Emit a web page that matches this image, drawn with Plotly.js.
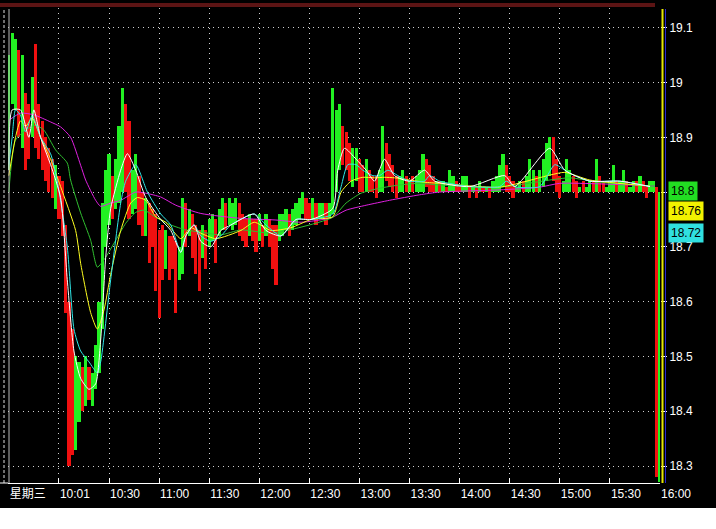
<!DOCTYPE html>
<html><head><meta charset="utf-8">
<script src="https://cdn.plot.ly/plotly-3.0.1.min.js"></script>
<style>html,body{margin:0;padding:0;background:#fff}#chart{width:716px;height:508px}</style>
</head><body><div id="chart"></div>
<script>
// ---- data ----
const sessionStart = '09:30';
const barStepMin = 2; // one bar every two minutes
const barLow = [
18.84,18.96,18.95,18.90,18.88,18.84,18.86,18.90,18.88,18.86,
18.84,18.82,18.80,18.79,18.77,18.75,18.72,18.58,18.30,18.32,
18.33,18.38,18.40,18.41,18.42,18.41,18.44,18.47,18.55,18.70,
18.74,18.75,18.77,18.78,18.80,18.80,18.75,18.76,18.77,18.74,
18.72,18.72,18.67,18.70,18.62,18.57,18.64,18.66,18.64,18.66,
18.58,18.64,18.65,18.70,18.72,18.68,18.65,18.62,18.68,18.66,
18.70,18.71,18.67,18.72,18.73,18.73,18.74,18.73,18.74,18.72,
18.71,18.70,18.72,18.71,18.69,18.71,18.70,18.72,18.70,18.66,
18.63,18.71,18.72,18.73,18.72,18.73,18.74,18.75,18.76,18.75,
18.75,18.75,18.74,18.75,18.75,18.74,18.75,18.76,18.80,18.84,
18.85,18.84,18.82,18.81,18.82,18.80,18.80,18.80,18.80,18.80,
18.79,18.80,18.80,18.82,18.81,18.80,18.79,18.80,18.80,18.80,
18.80,18.80,18.80,18.80,18.80,18.81,18.80,18.80,18.80,18.80,
18.80,18.80,18.80,18.80,18.80,18.80,18.80,18.80,18.79,18.80,
18.79,18.80,18.80,18.80,18.79,18.80,18.80,18.80,18.81,18.80,
18.80,18.79,18.80,18.80,18.80,18.80,18.80,18.80,18.80,18.80,
18.81,18.82,18.83,18.82,18.80,18.79,18.80,18.80,18.80,18.80,
18.79,18.80,18.80,18.80,18.80,18.80,18.80,18.80,18.80,18.80,
18.80,18.80,18.80,18.80,18.80,18.80,18.80,18.80,18.80,18.80,
18.80,18.79,18.80,18.80,18.28,18.27];
const barHigh = [
19.05,19.09,19.08,19.06,19.05,18.98,18.96,19.01,19.07,18.96,
18.93,18.90,18.88,18.86,18.85,18.83,18.82,18.74,18.60,18.55,
18.50,18.49,18.48,18.50,18.48,18.47,18.52,18.60,18.78,18.84,
18.87,18.83,18.86,18.92,18.99,18.96,18.93,18.84,18.87,18.83,
18.80,18.79,18.78,18.77,18.76,18.73,18.74,18.73,18.72,18.72,
18.71,18.70,18.79,18.78,18.77,18.76,18.74,18.73,18.74,18.73,
18.75,18.76,18.75,18.77,18.79,18.78,18.79,18.78,18.79,18.78,
18.76,18.75,18.76,18.75,18.75,18.76,18.74,18.76,18.75,18.74,
18.74,18.76,18.76,18.77,18.76,18.77,18.78,18.79,18.80,18.79,
18.78,18.79,18.78,18.78,18.78,18.78,18.78,18.99,18.95,18.96,
18.92,18.91,18.89,18.88,18.88,18.86,18.85,18.86,18.84,18.83,
18.83,18.84,18.92,18.89,18.87,18.85,18.83,18.83,18.84,18.83,
18.82,18.83,18.83,18.84,18.87,18.86,18.85,18.83,18.82,18.82,
18.82,18.81,18.84,18.83,18.82,18.81,18.83,18.83,18.81,18.81,
18.81,18.82,18.81,18.81,18.81,18.82,18.83,18.85,18.87,18.85,
18.83,18.82,18.81,18.82,18.82,18.83,18.86,18.84,18.83,18.84,
18.86,18.89,18.90,18.90,18.86,18.83,18.82,18.86,18.84,18.83,
18.82,18.81,18.82,18.81,18.82,18.82,18.86,18.83,18.82,18.81,
18.82,18.85,18.82,18.82,18.84,18.82,18.81,18.82,18.82,18.83,
18.82,18.81,18.82,18.82,18.81,18.80];
const barDir = (
'uuududdudd'+'dddduddddd'+'uududuuuuu'+'uduuudduud'+'dudddddudd'+
'duududddud'+'uuduuduuud'+'dduddududd'+'duuuduuuud'+'duduuduuuu'+
'ddduuddudd'+'duudddduud'+'uduuudddud'+'uduudduudu'+'dududuuuud'+
'dduuduuudu'+'uuuddduuud'+'duduududdu'+'uuduuduudu'+'dduudu').split('');

// moving-average lines: minutes after open, price
const maWhiteT = [0,2,7,12,15,19,25,31,35,39,43,48,52,55,58,61,67,71,76,82,91,97,103,106,111,115,121,127,133,147,154,163,172,181,194,197,201,208,214,219,225,231,240,249,255,276,297,303,324,333,348,366,384];
const maWhiteV = [18.84,18.95,18.95,18.90,18.95,18.90,18.85,18.79,18.64,18.51,18.46,18.44,18.45,18.53,18.68,18.77,18.84,18.87,18.84,18.79,18.75,18.73,18.69,18.72,18.74,18.71,18.70,18.73,18.74,18.76,18.73,18.72,18.75,18.75,18.77,18.84,18.88,18.86,18.84,18.82,18.86,18.83,18.82,18.84,18.82,18.81,18.83,18.81,18.88,18.84,18.82,18.82,18.81];
const maCyanT = [0,2,4,7,10,14,19,25,29,35,39,43,48,53,55,61,67,70,76,83,91,97,103,106,111,115,121,127,133,147,154,163,172,181,194,199,203,208,212,218,222,227,233,240,249,252,258,276,294,298,303,318,327,333,339,348,366,384];
const maCyanV = [18.85,18.90,18.95,18.94,18.91,18.94,18.90,18.87,18.82,18.70,18.55,18.51,18.49,18.47,18.49,18.64,18.78,18.82,18.85,18.80,18.76,18.74,18.69,18.72,18.74,18.72,18.71,18.72,18.74,18.76,18.74,18.72,18.75,18.75,18.76,18.81,18.85,18.85,18.84,18.83,18.83,18.84,18.83,18.82,18.82,18.83,18.82,18.81,18.81,18.82,18.81,18.81,18.85,18.84,18.83,18.82,18.82,18.81];
const maYellowT = [0,4,7,10,14,19,25,31,40,43,49,53,57,61,67,73,77,82,88,94,103,109,115,124,139,147,157,169,181,194,199,205,212,219,225,231,240,249,258,294,324,333,348,384];
const maYellowV = [18.83,18.90,18.93,18.92,18.935,18.90,18.86,18.81,18.73,18.67,18.58,18.55,18.585,18.65,18.73,18.78,18.79,18.785,18.755,18.745,18.715,18.735,18.725,18.715,18.73,18.745,18.73,18.735,18.75,18.755,18.80,18.82,18.827,18.826,18.827,18.826,18.822,18.818,18.816,18.809,18.831,18.836,18.822,18.811];
const maGreenT = [0,4,10,16,21,28,35,37,43,49,53,58,64,70,76,81,88,97,106,115,127,139,157,175,194,202,211,222,234,246,258,294,324,336,354,387];
const maGreenV = [18.80,18.895,18.913,18.922,18.913,18.877,18.853,18.822,18.762,18.712,18.663,18.681,18.712,18.743,18.763,18.767,18.754,18.740,18.731,18.727,18.722,18.731,18.725,18.736,18.754,18.780,18.798,18.807,18.813,18.816,18.813,18.809,18.822,18.826,18.818,18.811];
const maMagentaT = [0,7,15,25,31,37,43,46,52,55,61,67,76,82,91,100,115,139,160,175,193,202,214,228,246,258,294,318,330,354,387];
const maMagentaV = [18.931,18.944,18.941,18.928,18.919,18.900,18.849,18.822,18.785,18.774,18.780,18.785,18.800,18.798,18.791,18.776,18.761,18.752,18.749,18.745,18.753,18.767,18.776,18.785,18.795,18.800,18.804,18.809,18.816,18.815,18.811];

const tickTimes = ['09:30','10:00','10:30','11:00','11:30','12:00','12:30','13:00','13:30','14:00','14:30','15:00','15:30','16:00'];
const tickLabels = ['星期三','10:01','10:30','11:00','11:30','12:00','12:30','13:00','13:30','14:00','14:30','15:00','15:30','16:00'];
const priceTicks = [18.3,18.4,18.5,18.6,18.7,18.8,18.9,19.0,19.1];
const priceLabels = ['18.3','18.4','18.5','18.6','18.7','','18.9','19','19.1']; // 18.8 is hidden behind its box
const lastValues = ['18.8','18.76','18.72'];
const lastColors = ['#22dd22','#f2f200','#30e0e0'];

// ---- build ----
const openMin = (()=>{const [a,b]=sessionStart.split(':').map(Number);return a*60+b;})();
const toMin = s => { const [h,m] = s.split(':').map(Number); return h*60+m - openMin; };
const barX = barLow.map((_, i) => i * barStepMin);
const UP = '#22f022', DOWN = '#f01010';
const W = 716, H = 508, L = 8, R = 56, T = 8, B = 25;
const pw = W - L - R, ph = H - T - B;
const px = x => (x - L) / pw, py = y => (H - B - y) / ph;
const boxY = [191, 211, 233.5]; // pixel centres of the value boxes

const traces = [
  {type:'bar', x:barX, base:barLow, y:barHigh.map((h,i)=>h-barLow[i]), width:1.9,
   marker:{color:barDir.map(d=>d==='u'?UP:DOWN), line:{width:0}}, hoverinfo:'skip'},
  {type:'scatter', mode:'lines', x:maMagentaT, y:maMagentaV, line:{color:'#e020e0', width:1, shape:'spline', smoothing:0.6}},
  {type:'scatter', mode:'lines', x:maGreenT, y:maGreenV, line:{color:'#30c030', width:1, shape:'spline', smoothing:0.6}},
  {type:'scatter', mode:'lines', x:maYellowT, y:maYellowV, line:{color:'#ffff20', width:1, shape:'spline', smoothing:0.6}},
  {type:'scatter', mode:'lines', x:maCyanT, y:maCyanV, line:{color:'#30e8e8', width:1, shape:'spline', smoothing:0.6}},
  {type:'scatter', mode:'lines', x:maWhiteT, y:maWhiteV, line:{color:'#ffffff', width:1, shape:'spline', smoothing:0.6}}
];

const font = 'Liberation Sans, Arial, "Noto Sans CJK SC", sans-serif';
const layout = {
  width:W, height:H, margin:{l:L, r:R, t:T, b:B},
  paper_bgcolor:'#000', plot_bgcolor:'#000', showlegend:false, bargap:0,
  font:{family:font, color:'#fff', size:12},
  xaxis:{range:[-0.5, 390], tickvals:tickTimes.map(toMin), ticktext:tickLabels,
    ticks:'inside', ticklen:5, tickcolor:'#fff', ticklabelposition:'outside right',
    showline:true, linecolor:'#fff', linewidth:1,
    showgrid:true, gridcolor:'#cfcfcf', griddash:'1px,4px', gridwidth:1, zeroline:false,
    tickfont:{family:font, size:12, color:'#fff'}},
  yaxis:{side:'right', range:[18.269, 19.136], tickvals:priceTicks, ticktext:priceLabels,
    ticks:'outside', ticklen:6, tickcolor:'#fff', showline:false,
    showgrid:true, gridcolor:'#cfcfcf', griddash:'1px,4px', gridwidth:1, zeroline:false,
    tickfont:{family:font, size:12, color:'#fff'}},
  shapes:[
    {type:'rect', xref:'paper', yref:'paper', x0:px(0), x1:px(655), y0:py(7), y1:py(3), fillcolor:'#5c1414', line:{width:0}},
    {type:'line', xref:'paper', yref:'paper', x0:px(4), x1:px(4), y0:py(10), y1:py(483), line:{color:'#ddd', width:1, dash:'3px,2px'}},
    {type:'line', xref:'paper', yref:'paper', x0:px(9), x1:px(9), y0:py(9), y1:py(483), line:{color:'#bbb', width:1}},
    {type:'line', xref:'paper', yref:'paper', x0:px(0), x1:px(8), y0:py(483), y1:py(483), line:{color:'#fff', width:1}},
    {type:'line', xref:'paper', yref:'paper', x0:px(662.5), x1:px(662.5), y0:py(9), y1:py(483), line:{color:'#e6e600', width:2}},
    {type:'line', xref:'paper', yref:'paper', x0:px(665.5), x1:px(665.5), y0:py(9), y1:py(483), line:{color:'#2a2ad0', width:1}}
  ],
  annotations: lastValues.map((v,i)=>({xref:'paper', x:px(668), xanchor:'left', yref:'paper', y:py(boxY[i]), yanchor:'middle',
    text:v, showarrow:false, bgcolor:lastColors[i], borderpad:2,
    font:{family:font, size:12, color:'#000'}}))
};
Plotly.newPlot('chart', traces, layout, {staticPlot:true, displayModeBar:false});
</script></body></html>
